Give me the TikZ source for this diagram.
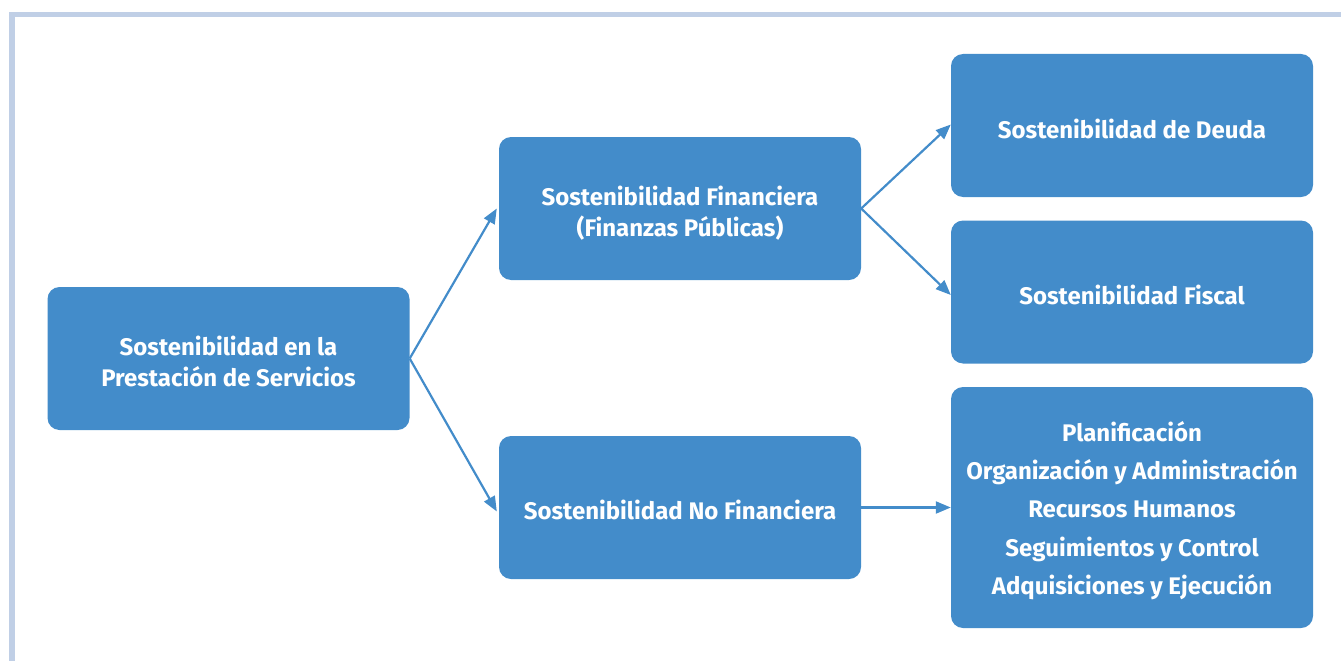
\documentclass[tikz,border=0pt]{standalone}
\usepackage{fontspec}
\setmainfont{Fira Sans}
\usetikzlibrary{arrows.meta}
\definecolor{boxblue}{HTML}{438CCA}
\definecolor{frameblue}{HTML}{C0CFE6}
\tikzset{
  box/.style={fill=boxblue, draw=none, rounded corners=12pt, minimum width=362pt, minimum height=143pt, inner sep=0pt},
  boxtext/.style={text=white, font=\bfseries\fontsize{24}{31}\selectfont, align=center, inner sep=0pt},
  conn/.style={draw=boxblue, line width=2.2pt, -{Triangle[length=15pt,width=12pt]}}
}
\begin{document}
\begin{tikzpicture}[x=1pt,y=-1pt]
\useasboundingbox (0,0) rectangle (1341,661);
\fill[frameblue] (9,12) rectangle (1341,17);
\fill[frameblue] (9,12) rectangle (15,661);
\node[box] (A) at (228.5,358.5) {};
\node[box] (B) at (680,208.5) {};
\node[box] (C) at (680,507.5) {};
\node[box] (D) at (1132,125.5) {};
\node[box] (E) at (1132,292) {};
\node[box, minimum height=241pt] (F) at (1132,507.5) {};
\node[boxtext] (At) at ([yshift=-3pt]A.center) {Sostenibilidad en la\\Prestación de Servicios};
\node[boxtext] (Bt) at ([yshift=-5pt]B.center) {Sostenibilidad Financiera\\(Finanzas Públicas)};
\node[boxtext] (Ct) at ([yshift=-2pt]C.center) {Sostenibilidad No Financiera};
\node[boxtext] (Dt) at ([yshift=-3pt]D.center) {Sostenibilidad de Deuda};
\node[boxtext] (Et) at ([yshift=-3pt]E.center) {Sostenibilidad Fiscal};
\node[boxtext, font=\bfseries\fontsize{24}{38.3}\selectfont] (Ft) at ([yshift=-3pt]F.center) {Planificación\\Organización y Administración\\Recursos Humanos\\Seguimientos y Control\\Adquisiciones y Ejecución};
\draw[conn] (A.east) -- ([xshift=-2pt]B.west);
\draw[conn] (A.east) -- ([xshift=-2pt,yshift=-4pt]C.west);
\draw[conn] (B.east) -- ([yshift=1pt]D.west);
\draw[conn] (B.east) -- ([yshift=-3pt]E.west);
\draw[conn] (C.east) -- (F.west);
\end{tikzpicture}
\end{document}
